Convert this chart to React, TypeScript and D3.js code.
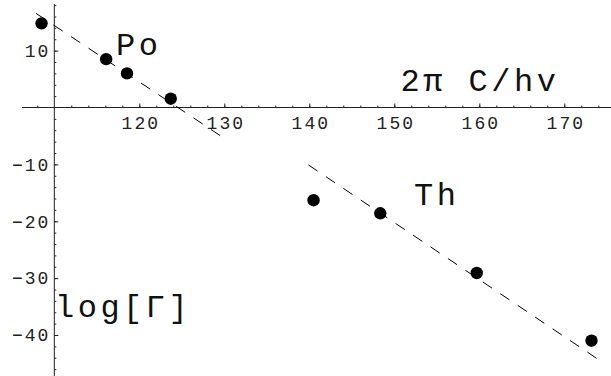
import { useEffect, useRef } from "react"
import * as d3 from "d3"

// Po points
const poX = [108.5, 116.1, 118.55, 123.7]
const poY = [14.8, 8.5, 6.0, 1.55]
// Th points
const thX = [140.5, 148.35, 159.7, 173.2]
const thY = [-16.3, -18.6, -29.1, -41.0]
// dashed fit lines (end points)
const poFitX = [107.85, 130]
const poFitY = [16.55, -5.42]
const thFitX = [139.9, 173.8]
const thFitY = [-10.1, -44.1]

const xMajor = [120, 130, 140, 150, 160, 170]
const yMajor = [10, -10, -20, -30, -40]

const W = 611
const H = 376
const FONT = "'Liberation Mono', 'Courier New', monospace"

export default function App() {
  const svgRef = useRef<SVGSVGElement>(null)

  useEffect(() => {
    if (!svgRef.current) return
    d3.select(svgRef.current).selectAll("*").remove()

    const svg = d3.select(svgRef.current).attr("width", W).attr("height", H)

    const x = d3.scaleLinear().domain([110, 170]).range([54.3, 564.3])
    const y = d3.scaleLinear().domain([0, -40]).range([107.5, 335])

    const x0 = x(110)
    const y0 = y(0)

    const xMinor = d3.range(108, 176, 2).filter((v) => v !== 110)
    const yMinor = d3.range(-46, 19, 2).filter((v) => v !== 0)

    // X axis line + ticks
    const gx = svg.append("g").attr("transform", `translate(0,${y0})`)
    gx.append("line")
      .attr("x1", x(106.2)).attr("x2", W)
      .attr("stroke", "#222").attr("stroke-width", 1)
    gx.append("g")
      .call(d3.axisTop(x).tickValues(xMinor).tickSize(2).tickFormat(() => ""))
      .call((g) => g.select(".domain").remove())
    gx.append("g")
      .call(d3.axisTop(x).tickValues(xMajor).tickSize(4).tickFormat(() => ""))
      .call((g) => g.select(".domain").remove())
    gx.append("g")
      .call(d3.axisBottom(x).tickValues(xMajor).tickSize(0).tickFormat(d3.format("d")))
      .call((g) => g.select(".domain").remove())
      .selectAll("text")
      .attr("y", 21).attr("dy", 0).attr("dx", 1)
      .attr("font-family", FONT).attr("font-size", 18)
      .attr("letter-spacing", 2).attr("fill", "#222")

    // Y axis line + ticks
    const gy = svg.append("g").attr("transform", `translate(${x0},0)`)
    gy.append("line")
      .attr("y1", 4).attr("y2", H)
      .attr("stroke", "#222").attr("stroke-width", 1)
    gy.append("g")
      .call(d3.axisRight(y).tickValues(yMinor).tickSize(2).tickFormat(() => ""))
      .call((g) => g.select(".domain").remove())
    gy.append("g")
      .call(d3.axisRight(y).tickValues(yMajor).tickSize(4).tickFormat(() => ""))
      .call((g) => g.select(".domain").remove())
    gy.append("g")
      .call(d3.axisLeft(y).tickValues(yMajor).tickSize(0).tickPadding(4).tickFormat(d3.format("d")))
      .call((g) => g.select(".domain").remove())
      .selectAll("text")
      .attr("font-family", FONT).attr("font-size", 18)
      .attr("letter-spacing", 2).attr("fill", "#222")

    svg.selectAll(".tick line").attr("stroke", "#222")

    // Dashed fits
    const line = d3.line<[number, number]>().x((d) => x(d[0])).y((d) => y(d[1]))
    const fits = [
      d3.zip(poFitX, poFitY) as [number, number][],
      d3.zip(thFitX, thFitY) as [number, number][],
    ]
    svg.selectAll("path.fit")
      .data(fits)
      .join("path")
      .attr("class", "fit")
      .attr("d", (d) => line(d))
      .attr("fill", "none")
      .attr("stroke", "#000")
      .attr("stroke-width", 1)
      .attr("stroke-dasharray", "11,10")

    // Points
    const pts = [...d3.zip(poX, poY), ...d3.zip(thX, thY)]
    svg.selectAll("circle.pt")
      .data(pts)
      .join("circle")
      .attr("class", "pt")
      .attr("cx", (d) => x(d[0]))
      .attr("cy", (d) => y(d[1]))
      .attr("r", 6.2)
      .attr("fill", "#000")

    // Labels
    const labels = [
      { t: "Po", px: 116, py: 55 },
      { t: "2\u03c0  C/hv", px: 400.5, py: 90.7 },
      { t: "Th", px: 414, py: 205 },
      { t: "log[\u0393]", px: 55, py: 317.3 },
    ]
    svg.selectAll("text.lbl")
      .data(labels)
      .join("text")
      .attr("class", "lbl")
      .attr("x", (d) => d.px)
      .attr("y", (d) => d.py)
      .attr("font-family", FONT)
      .attr("font-size", 32)
      .attr("letter-spacing", 3.5)
      .attr("fill", "#111")
      .text((d) => d.t)
  }, [])

  return (
    <svg
      ref={svgRef}
      style={{ position: "absolute", left: 0, top: 0, background: "#fff" }}
    />
  )
}
